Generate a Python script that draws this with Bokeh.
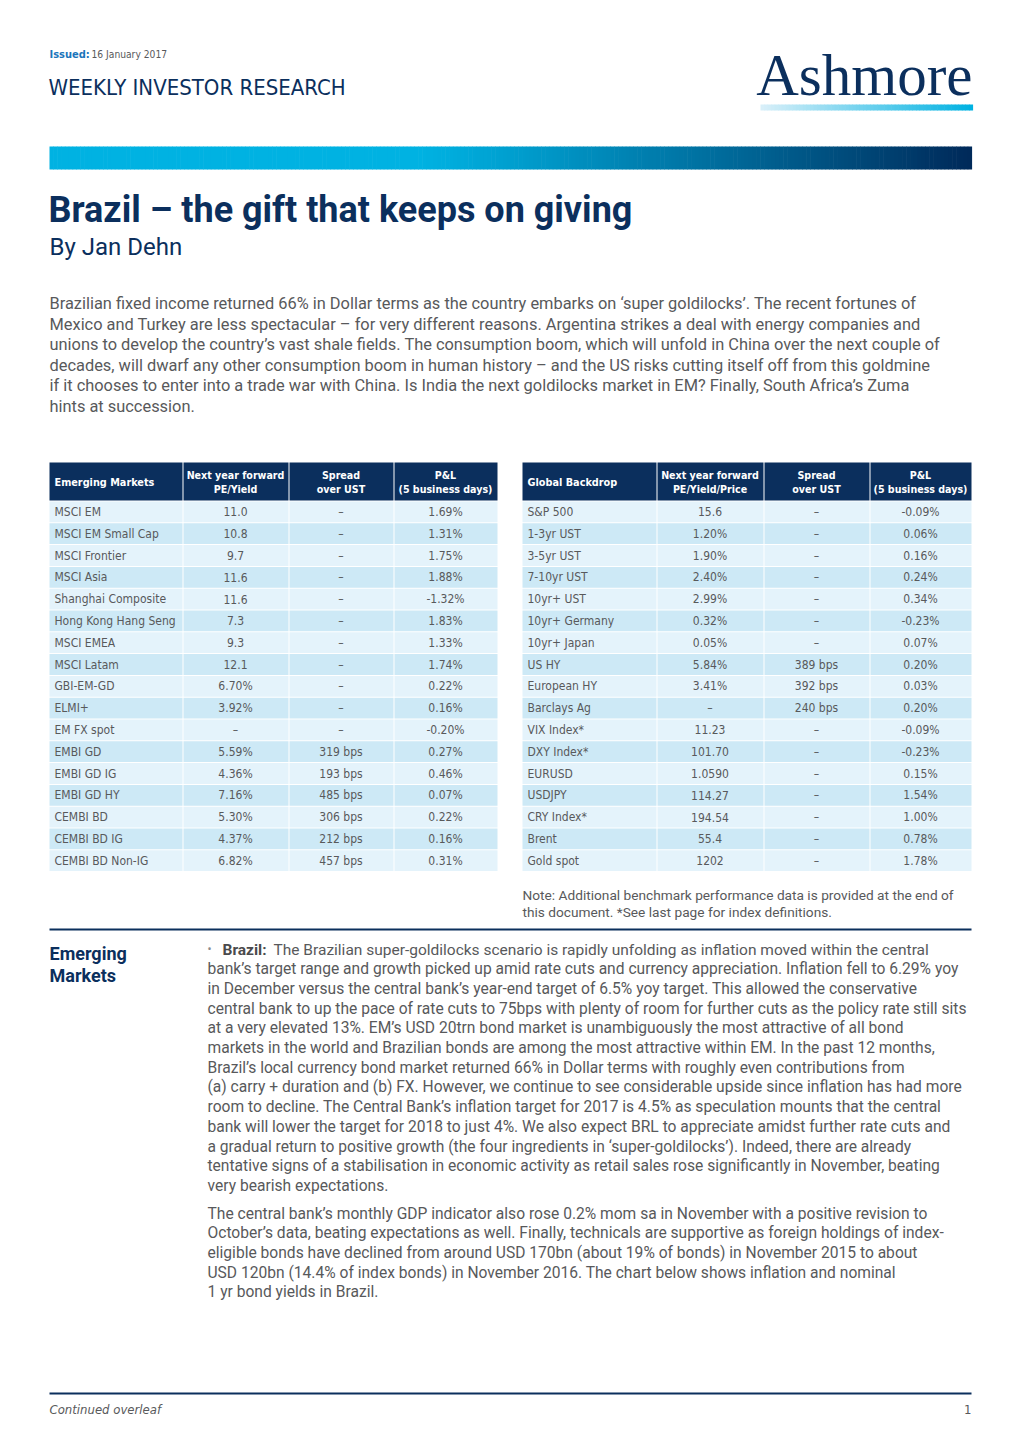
from bokeh.plotting import figure
from bokeh.models import Range1d
from bokeh.core.properties import value
from bokeh.embed import file_html
from bokeh.resources import INLINE

# ---------------- data ----------------
em_names = ["MSCI EM", "MSCI EM Small Cap", "MSCI Frontier", "MSCI Asia", "Shanghai Composite",
            "Hong Kong Hang Seng", "MSCI EMEA", "MSCI Latam", "GBI-EM-GD", "ELMI+", "EM FX spot",
            "EMBI GD", "EMBI GD IG", "EMBI GD HY", "CEMBI BD", "CEMBI BD IG", "CEMBI BD Non-IG"]
em_pe = ["11.0", "10.8", "9.7", "11.6", "11.6", "7.3", "9.3", "12.1", "6.70%", "3.92%", "–",
         "5.59%", "4.36%", "7.16%", "5.30%", "4.37%", "6.82%"]
em_spread = ["–"] * 11 + ["319 bps", "193 bps", "485 bps", "306 bps", "212 bps", "457 bps"]
em_pl = ["1.69%", "1.31%", "1.75%", "1.88%", "-1.32%", "1.83%", "1.33%", "1.74%", "0.22%", "0.16%",
         "-0.20%", "0.27%", "0.46%", "0.07%", "0.22%", "0.16%", "0.31%"]

gb_names = ["S&P 500", "1-3yr UST", "3-5yr UST", "7-10yr UST", "10yr+ UST", "10yr+ Germany",
            "10yr+ Japan", "US HY", "European HY", "Barclays Ag", "VIX Index*", "DXY Index*",
            "EURUSD", "USDJPY", "CRY Index*", "Brent", "Gold spot"]
gb_pe = ["15.6", "1.20%", "1.90%", "2.40%", "2.99%", "0.32%", "0.05%", "5.84%", "3.41%", "–",
         "11.23", "101.70", "1.0590", "114.27", "194.54", "55.4", "1202"]
gb_spread = ["–"] * 7 + ["389 bps", "392 bps", "240 bps"] + ["–"] * 7
gb_pl = ["-0.09%", "0.06%", "0.16%", "0.24%", "0.34%", "-0.23%", "0.07%", "0.20%", "0.03%", "0.20%",
         "-0.09%", "-0.23%", "0.15%", "1.54%", "1.00%", "0.78%", "1.78%"]

em_headers = ["Emerging Markets", "Next year forward\nPE/Yield", "Spread\nover UST", "P&L\n(5 business days)"]
gb_headers = ["Global Backdrop", "Next year forward\nPE/Yield/Price", "Spread\nover UST", "P&L\n(5 business days)"]

intro_lines = [
    "Brazilian fixed income returned 66% in Dollar terms as the country embarks on ‘super goldilocks’. The recent fortunes of",
    "Mexico and Turkey are less spectacular – for very different reasons. Argentina strikes a deal with energy companies and",
    "unions to develop the country’s vast shale fields. The consumption boom, which will unfold in China over the next couple of",
    "decades, will dwarf any other consumption boom in human history – and the US risks cutting itself off from this goldmine",
    "if it chooses to enter into a trade war with China.  Is India the next goldilocks market in EM? Finally, South Africa’s Zuma",
    "hints at succession.",
]
body1_first = "The Brazilian super-goldilocks scenario is rapidly unfolding as inflation moved within the central"
body1_lines = [
    "bank’s target range and growth picked up amid rate cuts and currency appreciation. Inflation fell to 6.29% yoy",
    "in December versus the central bank’s year-end target of 6.5% yoy target. This allowed the conservative",
    "central bank to up the pace of rate cuts to 75bps with plenty of room for further cuts as the policy rate still sits",
    "at a very elevated 13%. EM’s USD 20trn bond market is unambiguously the most attractive of all bond",
    "markets in the world and Brazilian bonds are among the most attractive within EM. In the past 12 months,",
    "Brazil’s local currency bond market returned 66% in Dollar terms with roughly even contributions from",
    "(a) carry + duration and (b) FX. However, we continue to see considerable upside since inflation has had more",
    "room to decline. The Central Bank’s inflation target for 2017 is 4.5% as speculation mounts that the central",
    "bank will lower the target for 2018 to just 4%. We also expect BRL to appreciate amidst further rate cuts and",
    "a gradual return to positive growth (the four ingredients in ‘super-goldilocks’). Indeed, there are already",
    "tentative signs of a stabilisation in economic activity as retail sales rose significantly in November, beating",
    "very bearish expectations.",
]
body2_lines = [
    "The central bank’s monthly GDP indicator also rose 0.2% mom sa in November with a positive revision to",
    "October’s data, beating expectations as well. Finally, technicals are supportive as foreign holdings of index-",
    "eligible bonds have declined from around USD 170bn (about 19% of bonds) in November 2015 to about",
    "USD 120bn (14.4% of index bonds) in November 2016. The chart below shows inflation and nominal",
    "1 yr bond yields in Brazil.",
]
note_lines = ["Note: Additional benchmark performance data is provided at the end of",
              "this document. *See last page for index definitions."]

# ---------------- styling ----------------
NAVY = "#0b2f5d"
CYAN = "#00b2e2"
GREY = "#58595b"
BODY_FONT = value("Roboto")
COND_FONT = value("DejaVu Sans Condensed")

p = figure(width=1004, height=1426, x_range=Range1d(0, 1004), y_range=Range1d(1426, 0),
           output_backend="svg", toolbar_location=None, min_border=0)
p.axis.visible = False
p.grid.visible = False
p.outline_line_color = None
p.background_fill_color = "white"


def lerp(c1, c2, t):
    a = [int(c1[i:i + 2], 16) for i in (1, 3, 5)]
    b = [int(c2[i:i + 2], 16) for i in (1, 3, 5)]
    return "#%02x%02x%02x" % tuple(round(a[k] + (b[k] - a[k]) * t) for k in range(3))


# header
p.text(x=[49], y=[54], text=["Issued:"], text_font=COND_FONT, text_font_style="bold",
       text_font_size="11px", text_color="#1b75bb", text_baseline="middle")
p.text(x=[91], y=[54], text=["16 January 2017"], text_font=COND_FONT,
       text_font_size="10.2px", text_color=GREY, text_baseline="middle")
p.text(x=[48], y=[87], text=["WEEKLY INVESTOR RESEARCH"], text_font=COND_FONT,
       text_font_size="22px", text_color=NAVY, text_baseline="middle")

# logo
p.text(x=[972], y=[74], text=["Ashmore"], text_font=value("Liberation Serif"),
       text_font_size="59px", text_color=NAVY, text_align="right", text_baseline="middle")
n = 60
lx0, lx1 = 760, 972
xs = [lx0 + (lx1 - lx0) * i / n for i in range(n + 1)]
p.quad(left=xs[:-1], right=[x + 0.6 for x in xs[1:]], top=[104] * n, bottom=[110] * n,
       fill_color=[lerp("#d8eff9", CYAN, i / (n - 1)) for i in range(n)], line_color=None)

# gradient banner
n = 240
bx0, bx1 = 49, 971
xs = [bx0 + (bx1 - bx0) * i / n for i in range(n + 1)]
cols = []
for i in range(n):
    t = i / (n - 1)
    if t < 0.40:
        cols.append(CYAN)
    else:
        cols.append(lerp("#00b2e2", "#002a5a", ((t - 0.40) / 0.60) ** 1.1))
p.quad(left=xs[:-1], right=[x + 0.6 for x in xs[1:]], top=[146] * n, bottom=[169] * n,
       fill_color=cols, line_color=None)

# title
p.text(x=[48], y=[209], text=["Brazil – the gift that keeps on giving"], text_font=value("Roboto"),
       text_font_style="bold", text_font_size="36px", text_color=NAVY, text_baseline="middle")
p.text(x=[49], y=[246], text=["By Jan Dehn"], text_font=BODY_FONT,
       text_font_size="24px", text_color=NAVY, text_baseline="middle")

# intro
p.text(x=[49] * len(intro_lines), y=[303 + 20.6 * i for i in range(len(intro_lines))], text=intro_lines,
       text_font=BODY_FONT, text_font_size="16.4px", text_color=GREY, text_baseline="middle")


# tables
def draw_table(x_edges, headers, c0, c1, c2, c3):
    top_h, bot_h = 462, 500
    row_h = 21.8
    nrow = len(c0)
    p.quad(left=[x_edges[k] + (0 if k == 0 else 1) for k in range(4)], right=x_edges[1:],
           top=[top_h] * 4, bottom=[bot_h] * 4, fill_color=NAVY, line_color=None)
    p.text(x=[x_edges[0] + 5], y=[(top_h + bot_h) / 2 + 1], text=[headers[0]], text_font=COND_FONT,
           text_font_style="bold", text_font_size="10.8px", text_color="white", text_baseline="middle")
    hx, hy, ht = [], [], []
    for k in range(1, 4):
        l1, l2 = headers[k].split("\n")
        cx = (x_edges[k] + x_edges[k + 1]) / 2
        hx += [cx, cx]
        hy += [474.5, 488.5]
        ht += [l1, l2]
    p.text(x=hx, y=hy, text=ht, text_font=COND_FONT, text_font_style="bold", text_font_size="10.6px",
           text_color="white", text_align="center", text_baseline="middle")
    L, R, T, B, F = [], [], [], [], []
    for i in range(nrow):
        y0 = bot_h + 1 + i * row_h
        for k in range(4):
            L.append(x_edges[k] + (0 if k == 0 else 1))
            R.append(x_edges[k + 1])
            T.append(y0)
            B.append(y0 + row_h - 1)
            F.append("#e4f3fb" if i % 2 == 0 else "#cde9f6")
    p.quad(left=L, right=R, top=T, bottom=B, fill_color=F, line_color=None)
    ys = [bot_h + 1 + i * row_h + row_h / 2 - 0.5 for i in range(nrow)]
    p.text(x=[x_edges[0] + 5] * nrow, y=ys, text=c0, text_font=COND_FONT, text_font_size="12px",
           text_color=GREY, text_baseline="middle")
    for k, col in zip((1, 2, 3), (c1, c2, c3)):
        cx = (x_edges[k] + x_edges[k + 1]) / 2
        p.text(x=[cx] * nrow, y=ys, text=col, text_font=COND_FONT, text_font_size="12px",
               text_color=GREY, text_align="center", text_baseline="middle")


draw_table([49, 182, 288, 393, 497], em_headers, em_names, em_pe, em_spread, em_pl)
draw_table([522, 656, 763, 869, 971], gb_headers, gb_names, gb_pe, gb_spread, gb_pl)

# note
p.text(x=[522, 522], y=[894, 911], text=note_lines, text_font=BODY_FONT, text_font_size="13.7px",
       text_color=GREY, text_baseline="middle")

# divider lines
p.segment(x0=[49, 49], x1=[971, 971], y0=[929, 1393], y1=[929, 1393], line_color=NAVY, line_width=2)

# section heading
p.text(x=[49, 49], y=[953, 975], text=["Emerging", "Markets"], text_font=value("Roboto"),
       text_font_style="bold", text_font_size="18px", text_color=NAVY, text_baseline="middle")

# body
p.text(x=[207], y=[948], text=["•"], text_font=BODY_FONT, text_font_size="12px",
       text_color="#8a8a8c", text_baseline="middle")
p.text(x=[222], y=[949], text=["Brazil:"], text_font=BODY_FONT, text_font_style="bold",
       text_font_size="15.5px", text_color="#4a4a4c", text_baseline="middle")
p.text(x=[273], y=[949], text=[body1_first], text_font=BODY_FONT,
       text_font_size="15.5px", text_color=GREY, text_baseline="middle")
p.text(x=[207] * len(body1_lines), y=[968.7 + 19.7 * i for i in range(len(body1_lines))], text=body1_lines,
       text_font=BODY_FONT, text_font_size="15.6px", text_color=GREY, text_baseline="middle")
p.text(x=[207] * len(body2_lines), y=[1213 + 19.7 * i for i in range(len(body2_lines))], text=body2_lines,
       text_font=BODY_FONT, text_font_size="15.6px", text_color=GREY, text_baseline="middle")

# footer
p.text(x=[49], y=[1409], text=["Continued overleaf"], text_font=COND_FONT, text_font_style="italic",
       text_font_size="13px", text_color=GREY, text_baseline="middle")
p.text(x=[971], y=[1409], text=["1"], text_font=COND_FONT,
       text_font_size="13px", text_color=GREY, text_align="right", text_baseline="middle")

open("out.html", "w").write(file_html(p, INLINE))
